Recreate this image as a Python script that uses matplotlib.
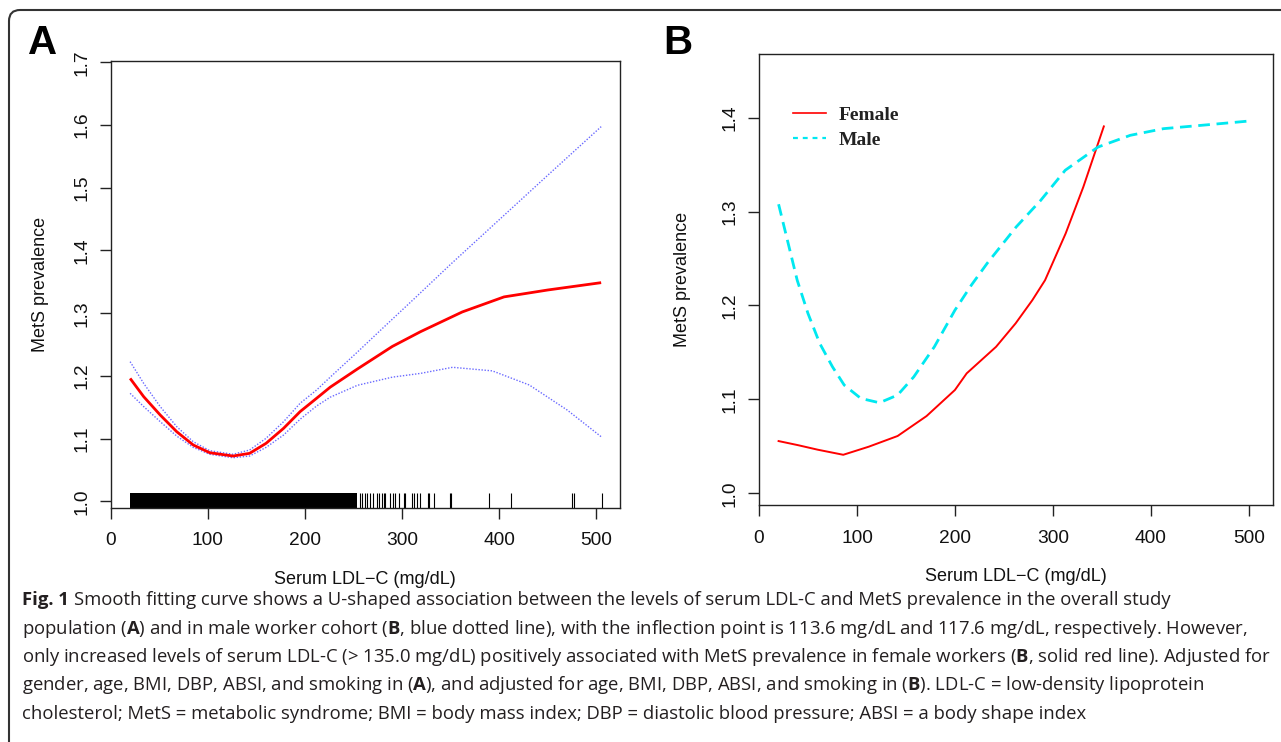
import matplotlib
matplotlib.use("Agg")
import matplotlib.pyplot as plt
from matplotlib.path import Path
from matplotlib.patches import PathPatch
from matplotlib.lines import Line2D
from matplotlib.font_manager import FontProperties

# ---------------- data ----------------
# Panel A: overall population, smooth fit and 95% CI
a_fit_x = [20, 34, 51, 68, 85, 102, 126, 143, 160, 178, 195, 212, 226, 254, 290, 319, 362, 405, 450, 505]
a_fit_y = [1.196, 1.1668, 1.1376, 1.111, 1.0898, 1.0775, 1.0722, 1.0765, 1.0925, 1.1164, 1.143, 1.1643,
           1.182, 1.211, 1.247, 1.2705, 1.302, 1.326, 1.337, 1.3487]
a_up_x = [20, 34, 51, 68, 85, 102, 126, 143, 160, 178, 195, 212, 226, 254, 280, 313, 350, 400, 450, 505]
a_up_y = [1.2227, 1.188, 1.151, 1.119, 1.095, 1.0807, 1.075, 1.0818, 1.1005, 1.127, 1.1563, 1.1775,
          1.198, 1.238, 1.276, 1.3238, 1.378, 1.449, 1.520, 1.5975]
a_lo_x = [20, 34, 51, 68, 85, 102, 126, 143, 160, 178, 195, 212, 226, 254, 290, 319, 352, 393, 431, 470, 505]
a_lo_y = [1.1722, 1.151, 1.127, 1.104, 1.086, 1.075, 1.0695, 1.0722, 1.086, 1.1057, 1.1308, 1.152,
          1.166, 1.185, 1.198, 1.204, 1.2137, 1.208, 1.1855, 1.1456, 1.103]
# rug: the dense part appears as a solid block, the sparse tail as single ticks
rug_dense_range = (20, 254)
rug_sparse = [256.9, 258.6, 262, 263.8, 267.2, 270, 274.1, 275.8, 279.3, 281, 282.7, 287.2, 290.3,
              293.1, 296.5, 301.7, 303.4, 310.3, 312.7, 315.5, 318.9, 327.1, 328, 333, 349.5, 350.8,
              390, 412, 474.5, 476.6, 505.9]

# Panel B: by sex
female_x = [20, 40, 60, 86, 112, 141.5, 171, 200, 212, 242, 262, 279, 292, 313, 331, 352]
female_y = [1.0556, 1.0512, 1.0464, 1.041, 1.0496, 1.061, 1.0822, 1.110, 1.1277, 1.156, 1.181, 1.2056,
            1.2269, 1.2766, 1.326, 1.3907]
male_x = [20, 39, 50, 62, 75, 87, 104, 123, 141.5, 158, 179, 200, 217, 233, 262.5, 287.6, 312.6, 346,
          379, 413, 463, 500]
male_y = [1.3078, 1.2269, 1.1915, 1.1596, 1.1347, 1.1152, 1.101, 1.0964, 1.1046, 1.124, 1.156, 1.195,
          1.222, 1.245, 1.2836, 1.312, 1.344, 1.3687, 1.3812, 1.3883, 1.3929, 1.3964]

xticks = [0, 100, 200, 300, 400, 500]
a_yticks = [1.0, 1.1, 1.2, 1.3, 1.4, 1.5, 1.6, 1.7]
b_yticks = [1.0, 1.1, 1.2, 1.3, 1.4]
xlabel = "Serum LDL\u2212C (mg/dL)"
ylabel = "MetS prevalence"
legend_labels = ["Female", "Male"]

caption_head = "Fig. 1"
caption_lines = [
    "Smooth fitting curve shows a U-shaped association between the levels of serum LDL-C and MetS prevalence in the overall study",
    r"population ($\mathbf{A}$) and in male worker cohort ($\mathbf{B}$, blue dotted line), with the inflection point is 113.6 mg/dL and 117.6 mg/dL, respectively. However,",
    r"only increased levels of serum LDL-C (> 135.0 mg/dL) positively associated with MetS prevalence in female workers ($\mathbf{B}$, solid red line). Adjusted for",
    r"gender, age, BMI, DBP, ABSI, and smoking in ($\mathbf{A}$), and adjusted for age, BMI, DBP, ABSI, and smoking in ($\mathbf{B}$). LDL-C = low-density lipoprotein",
    r"cholesterol; MetS = metabolic syndrome; BMI = body mass index; DBP = diastolic blood pressure; ABSI = a body shape index",
]

# ---------------- figure ----------------
plt.rcParams["font.family"] = ["Liberation Sans", "DejaVu Sans"]
plt.rcParams["mathtext.fontset"] = "custom"
plt.rcParams["mathtext.rm"] = "Open Sans"
plt.rcParams["mathtext.bf"] = "Open Sans:bold"

W, H = 1281, 742
fig = plt.figure(figsize=(W / 100, H / 100), dpi=100)
fig.patch.set_facecolor("white")
INK = "#111111"


def fbox(l, t, r, b):
    return [l / W, 1 - b / H, (r - l) / W, (b - t) / H]


def style_axes(ax, yticks, ylabelpad):
    for s in ax.spines.values():
        s.set_linewidth(1.0)
        s.set_color("#222222")
    ax.set_xticks(xticks)
    ax.set_xticklabels([str(t) for t in xticks])
    ax.set_yticks(yticks)
    ax.set_yticklabels(["%.1f" % t for t in yticks], rotation=90, va="center")
    ax.tick_params(axis="both", direction="out", length=8, width=1.0, color="#222222",
                   labelsize=13.8, labelcolor=INK)
    ax.tick_params(axis="x", pad=9.5)
    ax.tick_params(axis="y", pad=6.5)
    ax.set_xlabel(xlabel, fontsize=13, labelpad=15.5, color=INK)
    ax.set_ylabel(ylabel, fontsize=13, labelpad=ylabelpad, color=INK)


# Panel A
axA = fig.add_axes(fbox(110.7, 61, 620, 507.7))
axA.set_xlim(0.6, 524.4)
axA.set_ylim(0.9898, 1.7022)
style_axes(axA, a_yticks, 18)
axA.plot(a_up_x, a_up_y, color="#6a6aff", lw=1.0, linestyle=(0, (1, 1.2)))
axA.plot(a_lo_x, a_lo_y, color="#6a6aff", lw=1.0, linestyle=(0, (1, 1.2)))
axA.plot(a_fit_x, a_fit_y, color="#ff0000", lw=2.0, solid_capstyle="butt")
xt = axA.get_xaxis_transform()
axA.axvspan(rug_dense_range[0], rug_dense_range[1], ymin=0, ymax=0.032, color="black", lw=0)
axA.vlines(rug_sparse, 0, 0.032, transform=xt, color="black", lw=0.8)

# Panel B
axB = fig.add_axes(fbox(759, 54, 1273.3, 505.3))
axB.set_xlim(0.0, 525.0)
axB.set_ylim(0.9872, 1.4678)
style_axes(axB, b_yticks, 22.5)
axB.plot(female_x, female_y, color="#ff0000", lw=1.4)
axB.plot(male_x, male_y, color="#00e8f0", lw=2.0, linestyle=(0, (4.2, 2.4)))
handles = [Line2D([], [], color="#ff0000", lw=1.2),
           Line2D([], [], color="#00e8f0", lw=1.6, linestyle=(0, (2.2, 2.2)))]
leg = axB.legend(handles, legend_labels, loc="upper left", bbox_to_anchor=(0.066, 0.884),
                 frameon=False,
                 prop=FontProperties(family="Liberation Serif", weight="bold", size=14),
                 handlelength=1.7, handletextpad=0.65, labelspacing=0.38,
                 borderpad=0, borderaxespad=0)
for t in leg.get_texts():
    t.set_color("#222222")

# panel letters
fig.text(43 / W, 1 - 42.5 / H, "A", fontsize=29, fontweight="bold", ha="center", va="center")
fig.text(678 / W, 1 - 42.5 / H, "B", fontsize=29, fontweight="bold", ha="center", va="center")

# outer rounded frame (right and bottom sides cut off in the reference)
r = 11
verts = [(9, H + 5), (9, 10 + r), (9, 10), (9 + r, 10), (W + 5, 10)]
codes = [Path.MOVETO, Path.LINETO, Path.CURVE3, Path.CURVE3, Path.LINETO]
verts_fig = [(x / W, 1 - y / H) for x, y in verts]
frame = PathPatch(Path(verts_fig, codes), transform=fig.transFigure, fill=False,
                  lw=1.5, edgecolor="#333333", clip_on=False)
fig.patches.append(frame)

# caption, font size fitted so that the third line spans the width seen in the reference
cap_x = 22
cap_base = [605, 633.5, 662, 690.5, 719]
target_w = 1253.0
base_size = 14.0
cap_color = "#231f20"
renderer = fig.canvas.get_renderer()


def text_w(s, size, weight="normal"):
    t = fig.text(0, 0, s, fontsize=size, family="Open Sans", fontweight=weight)
    w = t.get_window_extent(renderer).width
    t.remove()
    return w


cap_size = base_size * target_w / text_w(caption_lines[2], base_size)
space_w = text_w("a a", cap_size) - text_w("aa", cap_size)
head_w = text_w(caption_head, cap_size, "bold")
fig.text(cap_x / W, 1 - cap_base[0] / H, caption_head, fontsize=cap_size, family="Open Sans",
         fontweight="bold", color=cap_color, ha="left", va="baseline")
for i, (line, yb) in enumerate(zip(caption_lines, cap_base)):
    x0 = cap_x + (head_w + space_w if i == 0 else 0)
    fig.text(x0 / W, 1 - yb / H, line, fontsize=cap_size, family="Open Sans",
             color=cap_color, ha="left", va="baseline")

fig.savefig("out.png", dpi=100, facecolor="white")
